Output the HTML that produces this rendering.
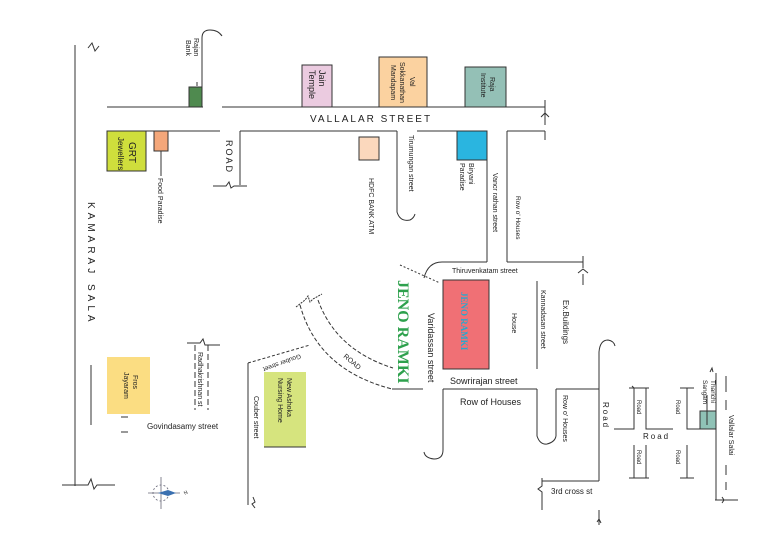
<!DOCTYPE html>
<html><head><meta charset="utf-8"><style>
body{margin:0;background:#fff}
svg{display:block;font-family:"Liberation Sans",sans-serif}
text{fill:#222}
</style></head><body>
<svg width="759" height="559" viewBox="0 0 759 559" xmlns="http://www.w3.org/2000/svg">
<g stroke="#333" stroke-width="1" fill="none">
<line x1="75" y1="45" x2="75" y2="486"/>
<path d="M88 48 l4 -5 l3 8 l4 -5"/>
<line x1="91" y1="365" x2="91" y2="425"/>
<path d="M62 485 H88 l3 -6 l3 10 l3 -4 H115"/>
<line x1="107" y1="107" x2="203" y2="107"/>
<line x1="222" y1="107" x2="545" y2="107"/>
<line x1="107" y1="131" x2="220" y2="131"/>
<line x1="240" y1="131" x2="397" y2="131"/>
<line x1="417" y1="131" x2="487" y2="131"/>
<line x1="507" y1="131" x2="545" y2="131"/>
<path d="M545 100 V125 M541 117 l4 -4 l4 4 M545 131 V140"/>
<line x1="240" y1="131" x2="240" y2="185"/>
<path d="M213 186 H226 l3 -4 l2 6 l3 -2 H247"/>
<path d="M202 90 V38 Q202 30 210 30 Q218 30 222 36"/>
<line x1="197" y1="82" x2="197" y2="86"/>
<line x1="161" y1="151" x2="161" y2="176"/>
<path d="M397 131 V212 Q400 222 410 220 Q414 218 415 214"/>
<line x1="487" y1="131" x2="487" y2="262"/>
<line x1="507" y1="131" x2="507" y2="262"/>
<path d="M424 278 Q428 262 442 262 H487"/>
<line x1="507" y1="262" x2="583" y2="262"/>
<path d="M583 256 V268 M578 273 l5 -4 l5 4 M583 274 V285"/>
<path d="M400 265 L440 283" stroke-dasharray="2,2"/>
<line x1="445" y1="284" x2="449" y2="288"/>
<line x1="537" y1="281" x2="537" y2="369"/>
<path d="M599 481 V352 Q600 340 608 340 Q614 341 615 346"/>
<line x1="392" y1="389" x2="423" y2="389"/>
<line x1="443" y1="389" x2="537" y2="389"/>
<line x1="556" y1="389" x2="599" y2="389"/>
<path d="M443 389 V450 Q443 459 434 459 Q425 458 424 452"/>
<path d="M537 389 V436 Q540 445 547 444 Q555 442 556 436 M556 436 V389"/>
<path d="M599 481 H542 V478 M542 478 V486 l-4 3 l4 3 V510"/>
<path d="M599 510 V525 M597 522 l2 -3 l2 4"/>
<path d="M300 305 Q318 370 392 389" stroke-dasharray="4,2"/>
<path d="M318 300 Q336 350 393 368" stroke-dasharray="4,2"/>
<path d="M296 307 L305 300 l3 -4 l2 6 l3 -3 L322 294" stroke-dasharray="2,1"/>
<line x1="248" y1="363" x2="248" y2="505"/>
<path d="M248 363 L310 345" stroke-dasharray="3,2"/>
<path d="M253 497 l2 5 l-3 2 l3 4"/>
<path d="M195 345 V410 M208 345 V410" stroke-dasharray="6,3"/>
<path d="M187 343 H200 l3 -4 l2 6 H220"/>
<path d="M121 417 h7 M121 432 h7" />
<path d="M614 429 H634 V388 M634 388 l-2 -2 M646 388 V429 H673"/>
<path d="M687 388 V429 H716"/>
<path d="M680 388 h14 M629 388 h20" />
<path d="M634 445 V478 M646 445 V478 M687 445 V478"/>
<path d="M629 478 h20 M680 478 h14"/>
<line x1="716" y1="373" x2="716" y2="500"/>
<path d="M726 376 V392 M726 400 V410 M726 465 V475 M726 482 V490"/>
<path d="M715 500 H738 M722 497 l2 3 l-2 3"/>
<path d="M710 372 l2 -4 l1 4"/>
</g>
<g stroke="#333" stroke-width="1">
<rect x="189" y="87" width="13" height="20" fill="#4f8a4f"/>
<rect x="107" y="131" width="39" height="40" fill="#cfde3c"/>
<rect x="154" y="131" width="14" height="20" fill="#f4a77a"/>
<rect x="302" y="65" width="30" height="42" fill="#ebcbe0"/>
<rect x="379" y="57" width="48" height="50" fill="#fbd2a0"/>
<rect x="465" y="67" width="41" height="40" fill="#94c0b6"/>
<rect x="359" y="137" width="20" height="23" fill="#fbd8bd"/>
<rect x="457" y="131" width="30" height="29" fill="#2ab5e0"/>
<rect x="443" y="280" width="46" height="89" fill="#f07075"/>
<rect x="107" y="357" width="43" height="57" fill="#fbdd82" stroke="none"/>
<rect x="264" y="372" width="42" height="75" fill="#d6e47e" stroke="none"/>
<rect x="700" y="411" width="16" height="18" fill="#8fc2b6"/>
</g>
<line x1="264" y1="447" x2="306" y2="447" stroke="#333"/>
<line x1="707" y1="395" x2="707" y2="425" stroke="#333"/>
<g stroke="#667" stroke-width="0.8" fill="none">
<line x1="148" y1="493" x2="180" y2="493"/><line x1="161" y1="477" x2="161" y2="509"/>
<circle cx="161" cy="493" r="8" stroke-dasharray="2,2"/>
</g>
<path d="M158 493 L168 490 L176 493 L168 496Z" fill="#3a70b0"/>
<text x="185" y="495" font-size="5" transform="rotate(-30 185 495)">N</text>
<g font-size="8">
<text x="310" y="122" font-size="10" letter-spacing="2">VALLALAR STREET</text>
<text font-size="10" letter-spacing="4" transform="translate(88 202) rotate(90)">KAMARAJ SALA</text>
<text font-size="9" letter-spacing="2" transform="translate(226 140) rotate(90)">ROAD</text>
<text transform="translate(194 38) rotate(90)" font-size="7">Rajan</text>
<text transform="translate(186 40) rotate(90)" font-size="7">Bank</text>
<text transform="translate(129 142) rotate(90)" font-size="10">GRT</text>
<text transform="translate(118 137) rotate(90)">Jewellers</text>
<text transform="translate(158 178) rotate(90)" font-size="7">Food Paradise</text>
<text transform="translate(319 70) rotate(90)" font-size="9">Jain</text>
<text transform="translate(309 70) rotate(90)" font-size="9">Temple</text>
<text transform="translate(410 77) rotate(90)" font-size="7">Val</text>
<text transform="translate(400 62) rotate(90)" font-size="7">Sokkanathan</text>
<text transform="translate(391 65) rotate(90)" font-size="7">Mandapam</text>
<text transform="translate(490 77) rotate(90)" font-size="7">Raja</text>
<text transform="translate(481 73) rotate(90)" font-size="7">Institute</text>
<text transform="translate(369 178) rotate(90)" font-size="7">HDFC BANK ATM</text>
<text transform="translate(409 135) rotate(90)" font-size="7">Tirumungan street</text>
<text transform="translate(469 163) rotate(90)" font-size="7">Biryani</text>
<text transform="translate(460 163) rotate(90)" font-size="7">Paradise</text>
<text transform="translate(493 173) rotate(90)" font-size="7">Vancr rathan street</text>
<text transform="translate(516 196) rotate(90)" font-size="6.5">Row o' Houses</text>
<text x="452" y="273" font-size="7">Thiruvenkatam street</text>
<text transform="translate(398 280) rotate(90)" font-size="16" font-weight="bold" font-family="Liberation Serif,serif" style="fill:#2ea14d">JENO RAMKI</text>
<text transform="translate(461 292) rotate(90)" font-size="9" font-weight="bold" font-family="Liberation Serif,serif" style="fill:#2aa7cc">JENO RAMKI</text>
<text transform="translate(428 313) rotate(90)" font-size="9">Varidassan street</text>
<text transform="translate(512 313) rotate(90)" font-size="7">House</text>
<text transform="translate(541 290) rotate(90)" font-size="7">Kannadasan street</text>
<text transform="translate(563 300) rotate(90)" font-size="8">Ex.Buildings</text>
<text x="450" y="384" font-size="9">Sowrirajan street</text>
<text x="460" y="405" font-size="9">Row of Houses</text>
<text transform="translate(563 395) rotate(90)" font-size="7">Row o' Houses</text>
<text x="551" y="494" font-size="8">3rd cross st</text>
<text transform="translate(603 402) rotate(90)" font-size="8" letter-spacing="2">Road</text>
<text x="643" y="439" font-size="8" letter-spacing="2">Road</text>
<text transform="translate(637 400) rotate(90)" font-size="6">Road</text>
<text transform="translate(637 450) rotate(90)" font-size="6">Road</text>
<text transform="translate(676 400) rotate(90)" font-size="6">Road</text>
<text transform="translate(676 450) rotate(90)" font-size="6">Road</text>
<text transform="translate(711 380) rotate(90)" font-size="6.5">Tharichi</text>
<text transform="translate(703 380) rotate(90)" font-size="6.5">Sangam</text>
<text transform="translate(729 415) rotate(90)" font-size="7">Vallalar Salai</text>
<text transform="translate(343 357) rotate(40)" font-size="7">ROAD</text>
<text transform="translate(300 354) rotate(160)" font-size="6.5">Gouber street</text>
<text transform="translate(287 378) rotate(90)" font-size="7">New Ashoka</text>
<text transform="translate(278 378) rotate(90)" font-size="7">Nursing Home</text>
<text transform="translate(254 396) rotate(90)" font-size="7">Couber street</text>
<text transform="translate(198 352) rotate(90)" font-size="7">Radhakrishnan st</text>
<text transform="translate(133 375) rotate(90)" font-size="7">Fros</text>
<text transform="translate(124 372) rotate(90)" font-size="7">Jayaram</text>
<text x="147" y="429" font-size="8">Govindasamy street</text>
</g>
</svg>
</body></html>
